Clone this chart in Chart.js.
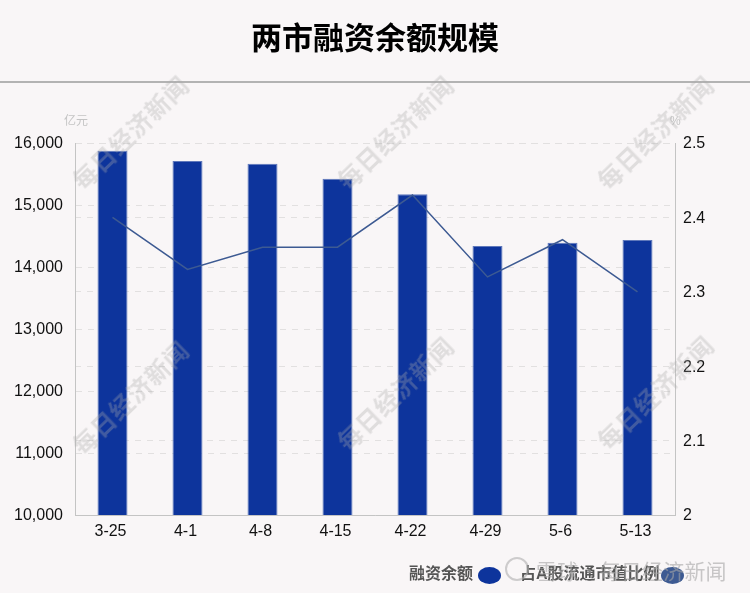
<!DOCTYPE html>
<html><head><meta charset="utf-8">
<script src="https://cdn.jsdelivr.net/npm/chart.js@4"></script>
<style>
html,body{margin:0;padding:0;background:#f9f6f7;width:750px;height:593px;overflow:hidden;font-family:"Liberation Sans","Noto Sans CJK SC",sans-serif}
#wrap{position:relative;width:750px;height:593px}
canvas{position:absolute;left:0;top:0}
#title{position:absolute;left:0;top:18px;width:750px;text-align:center;font:bold 31px "Liberation Sans","Noto Sans CJK SC";color:#000;line-height:42px}
#rule{position:absolute;left:0;top:81px;width:750px;height:1.5px;background:#b3b3b3}
.unit{position:absolute;top:114px;font-size:12px;color:#c4c4c4;line-height:14px}
.lg{position:absolute;top:565px;font:bold 16px "Liberation Sans","Noto Sans CJK SC";color:#555;line-height:18px;white-space:nowrap}
.sw{position:absolute;top:567px;width:23px;height:17px;border-radius:50%}
.wm{position:absolute;font:bold 24px "Noto Sans CJK SC";color:rgba(170,170,170,.33);transform:translate(-50%,-50%) rotate(-44deg);white-space:nowrap;letter-spacing:1px;line-height:30px}
.wmf{position:absolute;left:536px;top:557px;font:21px "Noto Sans CJK SC";color:rgba(165,165,165,.6);white-space:nowrap;line-height:26px;letter-spacing:.2px}
.logo{position:absolute;left:505px;top:557px;width:24px;height:24px;border:2px solid rgba(175,175,175,.6);border-radius:50%;box-sizing:border-box}
</style></head><body>
<div id="wrap">
<canvas id="c" width="750" height="593"></canvas>
<div id="title">两市融资余额规模</div>
<div id="rule"></div>
<div class="unit" style="left:64px">亿元</div>
<div class="unit" style="left:670px">%</div>
<div class="lg" id="l1" style="left:409px"></div>
<div class="sw" style="left:478px;background:#0d349c"></div>
<div class="lg" id="l2" style="left:520px"></div>
<div class="sw" style="left:661px;background:#3d5a92"></div>
<div class="wm" style="left:130px;top:132px">每日经济新闻</div>
<div class="wm" style="left:395px;top:132px">每日经济新闻</div>
<div class="wm" style="left:655px;top:132px">每日经济新闻</div>
<div class="wm" style="left:130px;top:397px">每日经济新闻</div>
<div class="wm" style="left:395px;top:393px">每日经济新闻</div>
<div class="wm" style="left:655px;top:392px">每日经济新闻</div>
<div class="logo"></div>
<div class="wmf">雪球·每日经济新闻</div>
</div>
<script>
const categories = ["3-25","4-1","4-8","4-15","4-22","4-29","5-6","5-13"];
const balance = [15875,15710,15665,15425,15175,14340,14390,14435];
const ratio = [2.40,2.33,2.36,2.36,2.43,2.32,2.37,2.30];
const seriesNames = ["融资余额","占A股流通市值比例"];
const leftTicks = [10000,11000,12000,13000,14000,15000,16000];
const rightTicks = [2,2.1,2.2,2.3,2.4,2.5];

document.getElementById('l1').textContent = seriesNames[0];
document.getElementById('l2').textContent = seriesNames[1];

const tickFont = {family:'"Liberation Sans"', size:16};
const fixedTicks = list => axis => { axis.ticks = list.map(v => ({value:v})); };

new Chart(document.getElementById('c'), {
  data: {
    labels: categories,
    datasets: [
      {type:'line', label:seriesNames[1], data:ratio, yAxisID:'y2', borderColor:'#3d5a92', borderWidth:1.5, pointRadius:0, tension:0, order:0},
      {type:'bar', label:seriesNames[0], data:balance, yAxisID:'y', backgroundColor:'#0d349c', borderColor:'#5f78bb', borderWidth:{top:1,left:1,right:1,bottom:0}, barPercentage:0.4, categoryPercentage:1, order:1}
    ]
  },
  options: {
    responsive:false, animation:false,
    layout:{padding:{left:0,right:0,top:143,bottom:0}},
    plugins:{legend:{display:false},title:{display:false},tooltip:{enabled:false}},
    scales:{
      x:{
        grid:{display:false,drawTicks:false},
        border:{color:'#c4c4c4'},
        ticks:{color:'#111',font:tickFont,padding:7,labelOffset:-2,maxRotation:0},
        afterFit:a=>{a.height=78;}
      },
      y:{
        position:'left',min:10000,max:16000,
        afterBuildTicks:fixedTicks(leftTicks),
        grid:{color:'#e2e0e0',drawTicks:false},
        border:{color:'#c4c4c4',dash:[6,6]},
        ticks:{color:'#111',font:tickFont,padding:12,labelOffset:1,callback:v=>v.toLocaleString('en-US')},
        afterFit:a=>{a.width=75;}
      },
      y2:{
        position:'right',min:2,max:2.5,
        afterBuildTicks:fixedTicks(rightTicks),
        grid:{color:'#e2e0e0',drawTicks:false,drawOnChartArea:true},
        border:{color:'#c4c4c4',dash:[6,6]},
        ticks:{color:'#111',font:tickFont,padding:8,labelOffset:1,callback:v=>v===2?'2':v.toFixed(1)},
        afterFit:a=>{a.width=75;}
      }
    }
  },
  plugins:[{
    id:'solidAxes',
    afterDraw(ch){
      const {ctx,chartArea:r}=ch;
      ctx.save();ctx.strokeStyle='#c4c4c4';ctx.lineWidth=1;ctx.setLineDash([]);
      ctx.beginPath();
      ctx.moveTo(r.left+.5,r.top);ctx.lineTo(r.left+.5,r.bottom);
      ctx.moveTo(r.right+.5,r.top);ctx.lineTo(r.right+.5,r.bottom);
      ctx.stroke();ctx.restore();
    }
  }]
});
</script>
</body></html>
